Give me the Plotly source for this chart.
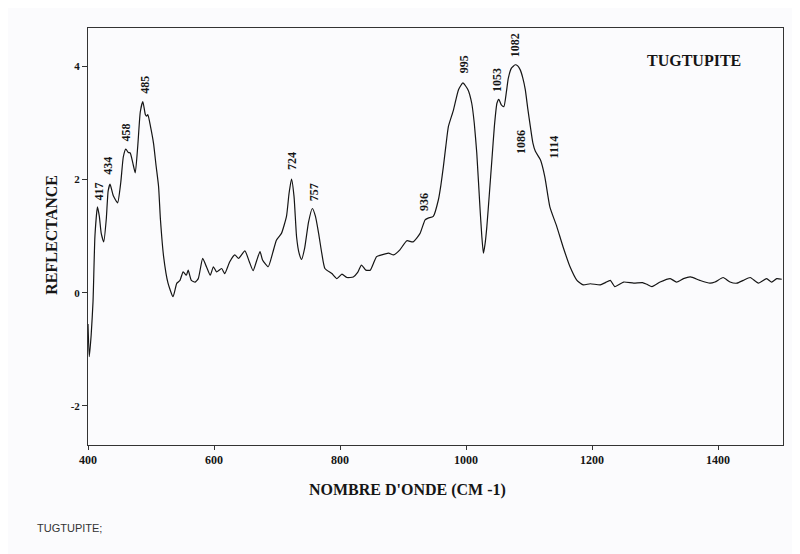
import plotly.graph_objects as go

# --- data ---
wavenumber = [400, 402, 405, 408, 411, 415, 418, 421, 425, 429, 432, 435, 440, 447, 452, 456, 460, 464, 467, 471,
              475, 479, 483, 487, 491, 493, 495, 499, 504, 508, 512, 515, 520, 527, 535, 541, 546, 551, 556, 559,
              564, 570, 575, 582, 588, 594, 599, 604, 612, 617, 625, 633, 639, 649, 656, 662, 668, 673, 677, 686,
              693, 699, 707, 715, 719, 723, 727, 731, 735, 739, 744, 750, 756, 761, 766, 771, 776, 787, 795, 803,
              811, 821, 828, 834, 841, 848, 853, 858, 866, 877, 885, 895, 906, 916, 927, 935, 940, 948, 956, 960,
              964, 968, 972, 980, 988, 995, 1003, 1009, 1013, 1017, 1022, 1025, 1027.5, 1030, 1033, 1037, 1041,
              1045, 1049, 1052, 1056, 1060, 1064, 1067, 1072, 1078, 1082, 1086, 1090, 1094, 1098, 1102, 1106, 1110,
              1118, 1125, 1133, 1144, 1154, 1165, 1176, 1186, 1197, 1213, 1221, 1229, 1236, 1250, 1266, 1280, 1287,
              1295, 1308, 1324, 1334, 1345, 1356, 1371, 1387, 1395, 1408, 1419, 1430, 1440, 1451, 1464, 1477, 1485,
              1493, 1501]
reflectance = [-0.55, -1.13, -0.75, -0.15, 1.0, 1.52, 1.35, 1.05, 0.90, 1.30, 1.80, 1.92, 1.72, 1.59, 1.95, 2.40,
               2.54, 2.48, 2.47, 2.30, 2.12, 2.60, 3.20, 3.38, 3.15, 3.12, 3.15, 2.95, 2.64, 2.25, 1.88, 1.29, 0.64,
               0.17, -0.07, 0.17, 0.22, 0.37, 0.31, 0.40, 0.22, 0.19, 0.25, 0.61, 0.46, 0.31, 0.46, 0.37, 0.43, 0.34,
               0.55, 0.67, 0.61, 0.74, 0.55, 0.39, 0.58, 0.73, 0.58, 0.46, 0.70, 0.93, 1.05, 1.35, 1.75, 2.01, 1.70,
               0.99, 0.70, 0.59, 0.80, 1.25, 1.49, 1.35, 1.05, 0.70, 0.43, 0.34, 0.25, 0.33, 0.27, 0.28, 0.36, 0.49,
               0.40, 0.40, 0.52, 0.64, 0.67, 0.70, 0.67, 0.76, 0.92, 0.90, 1.05, 1.29, 1.32, 1.35, 1.64, 1.90, 2.23,
               2.60, 2.94, 3.23, 3.59, 3.71, 3.59, 3.35, 3.00, 2.47, 1.52, 1.00, 0.70, 0.85, 1.17, 1.75, 2.35, 2.95,
               3.35, 3.42, 3.32, 3.29, 3.55, 3.79, 3.97, 4.03, 4.01, 3.94, 3.80, 3.59, 3.25, 2.94, 2.65, 2.50, 2.35,
               2.05, 1.52, 1.17, 0.81, 0.46, 0.22, 0.14, 0.16, 0.14, 0.18, 0.22, 0.11, 0.19, 0.17, 0.18, 0.15, 0.11,
               0.19, 0.25, 0.19, 0.25, 0.28, 0.22, 0.17, 0.19, 0.27, 0.19, 0.17, 0.22, 0.27, 0.17, 0.25, 0.19, 0.25,
               0.24]

peak_labels = ["417", "434", "458", "485", "724", "757", "936", "995", "1053", "1082", "1086", "1114"]
peak_label_x = [416, 432, 460, 489, 723, 758, 932, 996, 1049, 1078, 1086, 1139]
peak_label_y = [1.79, 2.25, 2.83, 3.68, 2.32, 1.77, 1.61, 4.03, 3.76, 4.38, 2.67, 2.58]

x_ticks = [400, 600, 800, 1000, 1200, 1400]
y_ticks = [-2, 0, 2, 4]

serif = "Liberation Serif"
ink = "#151515"

fig = go.Figure()
fig.add_trace(go.Scatter(
    x=wavenumber, y=reflectance, mode="lines",
    line=dict(color=ink, width=1.2, shape="spline", smoothing=0.5),
    hoverinfo="x+y", showlegend=False,
))

annotations = []
for t, x, y in zip(peak_labels, peak_label_x, peak_label_y):
    annotations.append(dict(x=x, y=y, xref="x", yref="y", text="<b>" + t + "</b>", showarrow=False,
                            textangle=-90, font=dict(family=serif, size=12, color=ink)))

# title inside the plot (top right)
annotations.append(dict(x=0.942, y=0.923, xref="paper", yref="paper", text="<b>TUGTUPITE</b>",
                        showarrow=False, xanchor="right", yanchor="middle",
                        font=dict(family=serif, size=16, color=ink)))
# axis titles
annotations.append(dict(x=0.46, y=-0.108, xref="paper", yref="paper", text="<b>NOMBRE D'ONDE (CM -1)</b>",
                        showarrow=False, xanchor="center", yanchor="middle",
                        font=dict(family=serif, size=16, color=ink)))
annotations.append(dict(x=-0.052, y=0.504, xref="paper", yref="paper", text="<b>REFLECTANCE</b>",
                        showarrow=False, xanchor="center", yanchor="middle", textangle=-90,
                        font=dict(family=serif, size=16, color=ink)))
# bottom-left note
annotations.append(dict(x=-0.0763, y=-0.199, xref="paper", yref="paper", text="TUGTUPITE;",
                        showarrow=False, xanchor="left", yanchor="middle",
                        font=dict(family="Liberation Sans", size=11, color="#333333")))

# The page body adds an 8px offset, so margins are compensated to land the
# plot area at x 88..783, y 28..445 in the window.
fig.update_layout(
    width=800, height=554,
    margin=dict(l=80, r=25, t=20, b=117),
    paper_bgcolor="#fbfbfd", plot_bgcolor="rgba(0,0,0,0)",
    font=dict(family=serif, color=ink),
    annotations=annotations,
)
fig.update_xaxes(
    range=[400, 1503], tickvals=x_ticks, ticktext=[str(v) for v in x_ticks],
    showgrid=False, zeroline=False, showline=True, linecolor="#333333", linewidth=1, mirror=True,
    ticks="outside", ticklen=4, tickcolor="#333333",
    tickfont=dict(family=serif, size=12, color=ink, weight="bold"),
)
fig.update_yaxes(
    range=[-2.69, 4.68], tickvals=y_ticks, ticktext=[str(v) for v in y_ticks],
    showgrid=False, zeroline=False, showline=True, linecolor="#333333", linewidth=1, mirror=True,
    ticks="outside", ticklen=5, tickcolor="#333333",
    tickfont=dict(family=serif, size=11, color=ink, weight="bold"),
)

fig.write_html("out.html")
